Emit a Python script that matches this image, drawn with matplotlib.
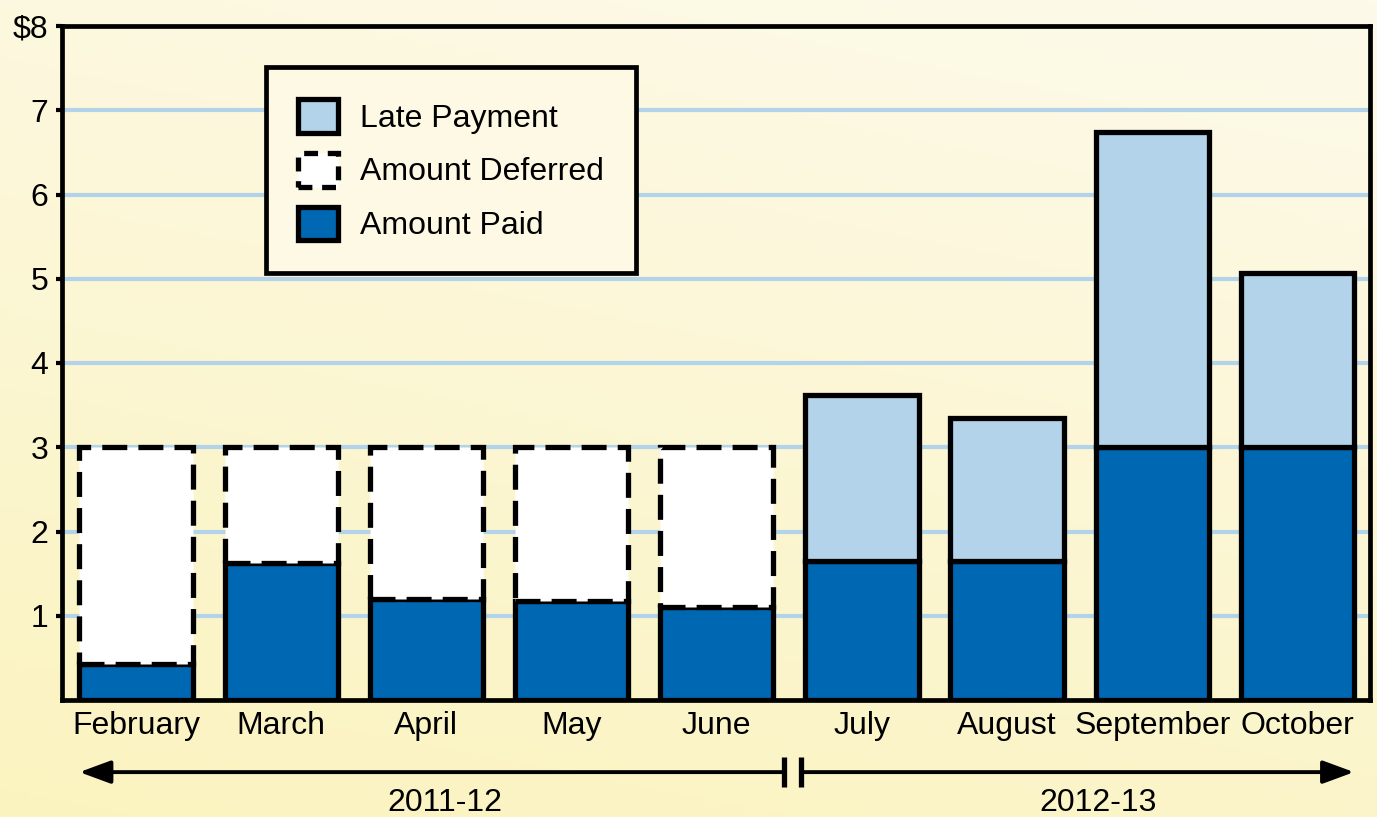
import numpy as np
import matplotlib
matplotlib.use('Agg')
import matplotlib.pyplot as plt
from matplotlib.patches import Patch

# dados
meses = ['February', 'March', 'April', 'May', 'June',
         'July', 'August', 'September', 'October']
pago = [0.43, 1.63, 1.20, 1.18, 1.10, 1.65, 1.65, 3.00, 3.00]
adiado = [2.57, 1.37, 1.80, 1.82, 1.90, 0, 0, 0, 0]
atrasado = [0, 0, 0, 0, 0, 1.97, 1.70, 3.74, 2.07]
anos = ['2011-12', '2012-13']
n_primeiro = 5  # meses de 2011-12

plt.rcParams['font.family'] = ['Liberation Sans', 'DejaVu Sans']
plt.rcParams['lines.scale_dashes'] = False

AZUL = '#0068b3'
AZUL_CLARO = '#b3d3ea'
FUNDO = '#fdf9e4'
FS = 23

fig = plt.figure(figsize=(13.77, 8.17), dpi=100)

# fundo em degrade
bg = fig.add_axes([0, 0, 1, 1], zorder=-10)
yy, xx = np.mgrid[0:1:200j, 0:1:200j]
t = np.clip(0.75 * yy + 0.25 * xx, 0, 1)
c0 = np.array([0xfb, 0xf3, 0xbf]) / 255.
c1 = np.array([0xfd, 0xfa, 0xea]) / 255.
img = c0 + (c1 - c0) * t[..., None]
bg.imshow(img, origin='lower', aspect='auto', extent=[0, 1, 0, 1])
bg.axis('off')

ax = fig.add_axes([62 / 1377, 1 - 700 / 817, 1308 / 1377, 674 / 817])
ax.patch.set_alpha(0)

x = np.arange(len(meses))
w = 0.78
lw = 3.8

for v in range(1, 8):
    ax.axhline(v, color=AZUL_CLARO, lw=3, zorder=0)

ax.bar(x, pago, w, color=AZUL, edgecolor='black', linewidth=lw, zorder=2)
ax.bar(x[:n_primeiro], adiado[:n_primeiro], w, bottom=pago[:n_primeiro],
       color='white', edgecolor='black', linewidth=lw,
       linestyle=(0, (18, 8)), zorder=3)
ax.bar(x[n_primeiro:], atrasado[n_primeiro:], w, bottom=pago[n_primeiro:],
       color=AZUL_CLARO, edgecolor='black', linewidth=lw, zorder=2)

ax.set_xlim(-0.51, len(meses) - 0.5)
ax.set_ylim(0, 8)
ax.set_yticks(range(1, 9))
ax.set_yticklabels(['1', '2', '3', '4', '5', '6', '7', '$8'])
ax.set_xticks(x)
ax.set_xticklabels(meses)
ax.tick_params(axis='y', length=4, width=3, pad=6, labelsize=FS)
ax.tick_params(axis='x', length=0, pad=8, labelsize=FS)
for s in ax.spines.values():
    s.set_linewidth(3.4)

# setas dos anos
tr = ax.get_xaxis_transform()
y_seta = -0.107
quebra = n_primeiro - 0.5
seta = dict(arrowstyle='-|>,head_length=1.9,head_width=0.7',
            color='black', lw=2.8, shrinkA=0, shrinkB=0)
ax.annotate('', xy=(-0.39, y_seta), xytext=(quebra - 0.04, y_seta),
            xycoords=tr, textcoords=tr, annotation_clip=False, arrowprops=seta)
ax.annotate('', xy=(len(meses) - 0.61, y_seta), xytext=(quebra + 0.08, y_seta),
            xycoords=tr, textcoords=tr, annotation_clip=False, arrowprops=seta)
for xb in [quebra - 0.04, quebra + 0.08]:
    ax.plot([xb, xb], [y_seta - 0.022, y_seta + 0.022], color='black', lw=3.8,
            transform=tr, clip_on=False, solid_capstyle='butt')

ax.text(2.13, -0.153, anos[0], transform=tr, ha='center', va='center', fontsize=FS)
ax.text(6.63, -0.153, anos[1], transform=tr, ha='center', va='center', fontsize=FS)

handles = [Patch(facecolor=AZUL_CLARO, edgecolor='black', linewidth=lw),
           Patch(facecolor='white', edgecolor='black', linewidth=lw,
                 linestyle=(0, (10, 7))),
           Patch(facecolor=AZUL, edgecolor='black', linewidth=lw)]
leg = ax.legend(handles, ['Late Payment', 'Amount Deferred', 'Amount Paid'],
                loc='upper left', bbox_to_anchor=(0.156, 0.939), fontsize=FS,
                fancybox=False, framealpha=1, facecolor=FUNDO, edgecolor='black',
                handlelength=1.25, handleheight=1.25, labelspacing=0.6,
                borderpad=1.0, handletextpad=0.7, borderaxespad=0)
leg.get_frame().set_linewidth(3.4)

fig.savefig('out.png', dpi=100)
